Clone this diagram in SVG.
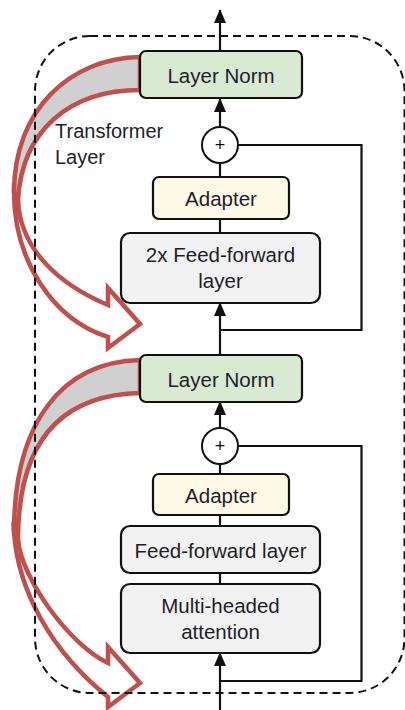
<svg xmlns="http://www.w3.org/2000/svg" width="405" height="710" viewBox="0 0 405 710">
<defs>
<marker id="ah" markerUnits="userSpaceOnUse" markerWidth="14" markerHeight="12" refX="13" refY="6" orient="auto">
<path d="M0,0 L14,6 L0,12 Z" fill="#111"/>
</marker>
<style>
.box{stroke:#111;stroke-width:2.2}
.ln{fill:#d9ead3}
.ad{fill:#fff9e8}
.ff{fill:#f2f2f2}
.t{font-family:"Liberation Sans",Arial,sans-serif;font-size:20.5px;fill:#1e1e2a;text-anchor:middle}
.lbl{font-family:"Liberation Sans",Arial,sans-serif;font-size:20px;fill:#1e1e2a}
.plus{font-family:"Liberation Sans",Arial,sans-serif;font-size:18px;fill:#111;text-anchor:middle}
.c{fill:#fff;stroke:#111;stroke-width:2}
.conn{fill:none;stroke:#111;stroke-width:2.2}
.red{stroke:#c0504d;stroke-width:4.5;stroke-linejoin:miter;stroke-miterlimit:10}
</style>
</defs>
<rect width="405" height="710" fill="#fff"/>
<g id="red-arrows">
<path class="red" fill="#d0d0d0" d="M140,57 C70,58 14,110 14,192 L18,200 C22,130 70,90 140,90 Z"/>
<path class="red" fill="#fff" d="M14,192 A126,150 0 0 0 108,337 L108,348 L140,324 L108,288 L108,305 C60,285 20,250 18,200 Z"/>
<path class="red" fill="#d0d0d0" d="M140,360 C62,362 14,422 14,532 L18,540 C18,455 50,395 140,393 Z"/>
<path class="red" fill="#fff" d="M14,532 C18,590 50,650 108,697 L108,707 L140,683 L108,647 L108,663 C70,645 22,580 18,540 Z"/>
</g>
<rect id="transformer-layer-box" x="35" y="36" width="369.5" height="657" rx="55" ry="55" fill="none" stroke="#111" stroke-width="2" stroke-dasharray="8,5"/>
<g id="connectors">
<line class="conn" x1="220" y1="51" x2="220" y2="10" marker-end="url(#ah)"/>
<line class="conn" x1="220" y1="127" x2="220" y2="99" marker-end="url(#ah)"/>
<line class="conn" x1="220" y1="163" x2="220" y2="177"/>
<line class="conn" x1="220" y1="219" x2="220" y2="233"/>
<line class="conn" x1="220" y1="355" x2="220" y2="303" marker-end="url(#ah)"/>
<polyline class="conn" points="238,145 361.5,145 361.5,330 220,330"/>
<line class="conn" x1="220" y1="428" x2="220" y2="402" marker-end="url(#ah)"/>
<line class="conn" x1="220" y1="464" x2="220" y2="474"/>
<line class="conn" x1="220" y1="515" x2="220" y2="526"/>
<line class="conn" x1="220" y1="573" x2="220" y2="584"/>
<line class="conn" x1="220" y1="710" x2="220" y2="653" marker-end="url(#ah)"/>
<polyline class="conn" points="238,446 361.5,446 361.5,681 220,681"/>
</g>
<g id="layer-norm-top">
<rect class="box ln" x="140" y="51" width="162" height="47" rx="6"/>
<text class="t" x="221" y="82.5">Layer Norm</text>
</g>
<g id="plus-top">
<circle class="c" cx="220" cy="145" r="18"/>
<text class="plus" x="220" y="151">+</text>
</g>
<g id="adapter-top">
<rect class="box ad" x="153" y="177" width="136" height="42" rx="6"/>
<text class="t" x="221" y="205.5">Adapter</text>
</g>
<g id="ff2x">
<rect class="box ff" x="121" y="233" width="199" height="70" rx="9"/>
<text class="t" x="220.5" y="261.5">2x Feed-forward</text>
<text class="t" x="220.5" y="288">layer</text>
</g>
<g id="layer-norm-bottom">
<rect class="box ln" x="140" y="355" width="162" height="47" rx="6"/>
<text class="t" x="221" y="387">Layer Norm</text>
</g>
<g id="plus-bottom">
<circle class="c" cx="220" cy="446" r="18"/>
<text class="plus" x="220" y="452">+</text>
</g>
<g id="adapter-bottom">
<rect class="box ad" x="153" y="474" width="136" height="41" rx="6"/>
<text class="t" x="221" y="502.5">Adapter</text>
</g>
<g id="ff">
<rect class="box ff" x="121" y="526" width="199" height="47" rx="9"/>
<text class="t" x="220.5" y="557.5">Feed-forward layer</text>
</g>
<g id="mha">
<rect class="box ff" x="121" y="584" width="199" height="69" rx="9"/>
<text class="t" x="220.5" y="612.5">Multi-headed</text>
<text class="t" x="220.5" y="639">attention</text>
</g>
<g id="label">
<text class="lbl" x="55" y="138">Transformer</text>
<text class="lbl" x="55" y="163.5">Layer</text>
</g>
</svg>
